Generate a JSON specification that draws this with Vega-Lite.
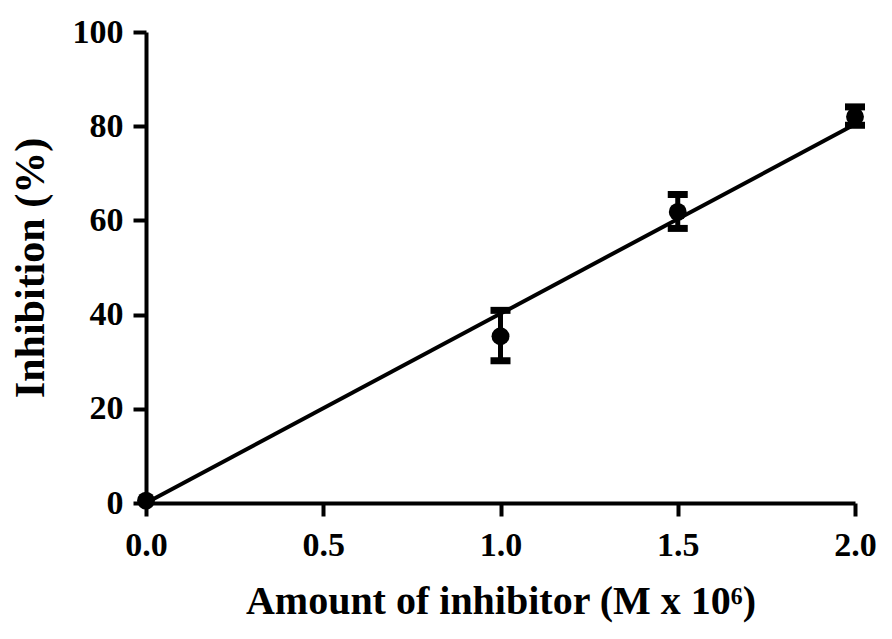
{
  "$schema": "https://vega.github.io/schema/vega-lite/v6.json",
  "width": 709,
  "height": 471,
  "autosize": "none",
  "padding": {"left": 146, "top": 32, "right": 37, "bottom": 136},
  "background": "white",
  "datasets": {
    "means": [
      {"conc": 0.0, "inhib": 0.5, "lo": null, "hi": null},
      {"conc": 1.0, "inhib": 35.4, "lo": 30.2, "hi": 40.9},
      {"conc": 1.5, "inhib": 61.8, "lo": 58.3, "hi": 65.5},
      {"conc": 2.0, "inhib": 82.0, "lo": 80.2, "hi": 84.1}
    ],
    "fit": [
      {"conc": 0.0, "inhib": 0.0},
      {"conc": 2.0, "inhib": 80.4}
    ]
  },
  "encoding": {
    "x": {
      "field": "conc",
      "type": "quantitative",
      "scale": {"domain": [0, 2], "nice": false, "zero": false},
      "axis": {
        "title": "Amount of inhibitor (M x 10⁶)",
        "values": [0, 0.5, 1, 1.5, 2],
        "format": ".1f",
        "labelPadding": 12,
        "titlePadding": 19
      }
    },
    "y": {
      "field": "inhib",
      "type": "quantitative",
      "scale": {"domain": [0, 100], "nice": false},
      "axis": {
        "title": "Inhibition (%)",
        "values": [0, 20, 40, 60, 80, 100],
        "labelPadding": 10,
        "titlePadding": 20,
        "titleFontSize": 42
      }
    }
  },
  "layer": [
    {
      "data": {"name": "fit"},
      "mark": {"type": "line", "color": "black", "strokeWidth": 4}
    },
    {
      "data": {"name": "means"},
      "mark": {"type": "rule", "color": "black", "strokeWidth": 5},
      "encoding": {
        "y": {"field": "lo", "type": "quantitative"},
        "y2": {"field": "hi"}
      }
    },
    {
      "data": {"name": "means"},
      "mark": {"type": "tick", "orient": "horizontal", "color": "black", "opacity": 1, "size": 20, "thickness": 7},
      "encoding": {"y": {"field": "lo", "type": "quantitative"}}
    },
    {
      "data": {"name": "means"},
      "mark": {"type": "tick", "orient": "horizontal", "color": "black", "opacity": 1, "size": 20, "thickness": 7},
      "encoding": {"y": {"field": "hi", "type": "quantitative"}}
    },
    {
      "data": {"name": "means"},
      "mark": {"type": "point", "shape": "circle", "filled": true, "color": "black", "opacity": 1, "size": 320}
    }
  ],
  "config": {
    "view": {"stroke": null},
    "axis": {
      "grid": false,
      "labelFlush": false,
      "domainColor": "black",
      "domainWidth": 4,
      "tickColor": "black",
      "tickWidth": 4,
      "tickSize": 13,
      "labelFont": "Liberation Serif",
      "labelFontWeight": "bold",
      "labelFontSize": 34,
      "labelColor": "black",
      "titleFont": "Liberation Serif",
      "titleFontWeight": "bold",
      "titleFontSize": 40,
      "titleColor": "black"
    }
  }
}
